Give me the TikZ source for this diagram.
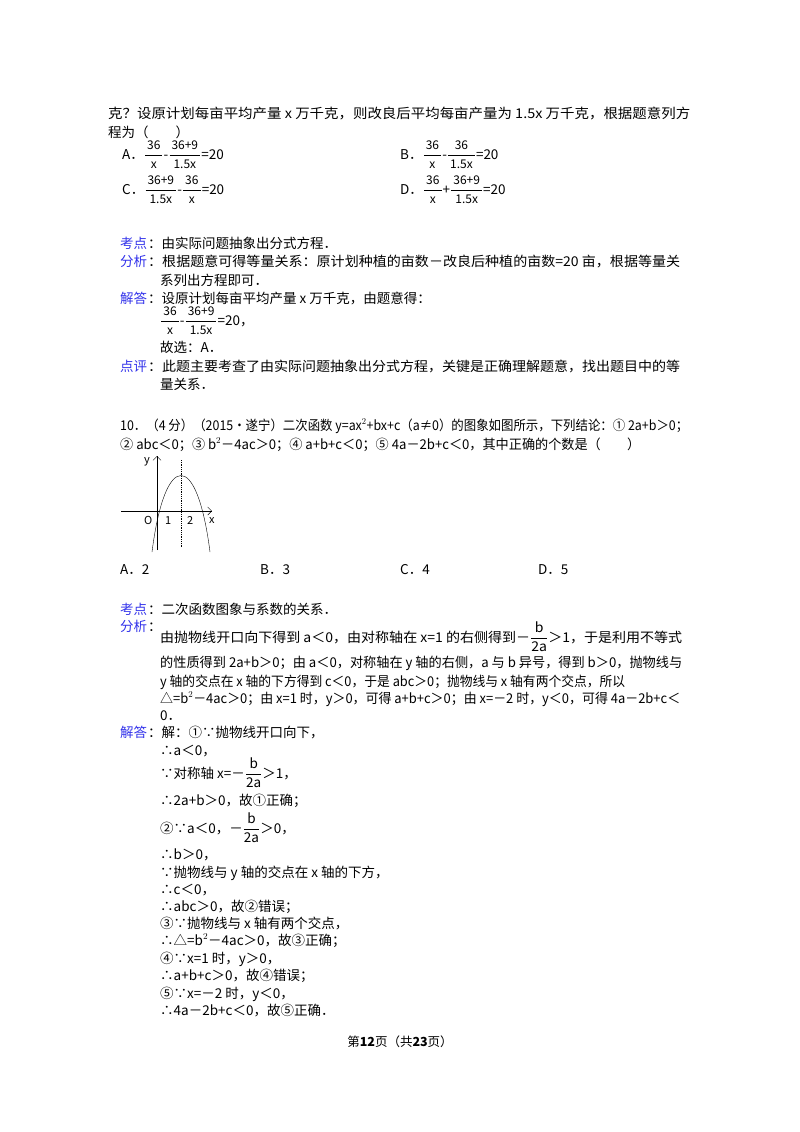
\documentclass[tikz,border=0pt]{standalone}
\usepackage{fontspec}
\usepackage{amsmath}
\usepackage{graphicx}
\usetikzlibrary{arrows.meta}
\setmainfont{Noto Sans CJK SC}
\definecolor{lab}{RGB}{50,50,235}
\newcommand{\fr}[2]{$\genfrac{}{}{0.6pt}{0}{\mbox{#1}}{\mbox{#2}}$}
\newcommand{\frs}[2]{$\genfrac{}{}{0.6pt}{0}{\mbox{\fontsize{12}{13}\selectfont\,#1\,}}{\mbox{\fontsize{12}{13}\selectfont\,#2\,}}$}
\newcommand{\fitw}[2]{\resizebox{#1}{\height}{#2}}
\tikzset{t/.style={anchor=base west,inner sep=0pt,font=\fontsize{13.5}{16}\selectfont},
 lb/.style={t,text=lab}}
\begin{document}
\begin{tikzpicture}[x=1pt,y=-1pt]
\useasboundingbox[fill=white] (0,0) rectangle (800,1132);
\node[t] (l1) at (108,118) {\fitw{582pt}{克？设原计划每亩平均产量 x 万千克，则改良后平均每亩产量为 1.5x 万千克，根据题意列方}};
\node[t] (l2) at (108,137) {程为（\quad\quad）};
\node[t] (oa) at (122,159) {A．\frs{36}{x}-\frs{36+9}{1.5x}=20};
\node[t] (ob) at (400,159) {B．\frs{36}{x}-\frs{36}{1.5x}=20};
\node[t] (oc) at (122,194) {C．\frs{36+9}{1.5x}-\frs{36}{x}=20};
\node[t] (od) at (400,194) {D．\frs{36}{x}+\frs{36+9}{1.5x}=20};
\node[lb] (k1) at (120,248) {考点};
\node[t] (k1t) at (148,248) {：由实际问题抽象出分式方程．};
\node[lb] (f1) at (120,266) {分析};
\node[t] (f1t) at (148,266) {\fitw{532pt}{：根据题意可得等量关系：原计划种植的亩数－改良后种植的亩数=20 亩，根据等量关}};
\node[t] (f1u) at (160,285) {系列出方程即可．};
\node[lb] (j1) at (120,303) {解答};
\node[t] (j1t) at (148,303) {：设原计划每亩平均产量 x 万千克，由题意得：};
\node[t] (j1f) at (160,325) {\frs{36}{x}-\frs{36+9}{1.5x}=20，};
\node[t] (j1g) at (160,352) {故选：A．};
\node[lb] (d1) at (120,371) {点评};
\node[t] (d1t) at (148,371) {\fitw{532pt}{：此题主要考查了由实际问题抽象出分式方程，关键是正确理解题意，找出题目中的等}};
\node[t] (d1u) at (160,389) {量关系．};
\node[t] (q1) at (120,430) {\fitw{568pt}{10．（4 分）（2015•遂宁）二次函数 y=ax$^2$+bx+c（a≠0）的图象如图所示，下列结论：① 2a+b＞0；}};
\node[t] (q2) at (120,449) {\fitw{520pt}{② abc＜0；③ b$^2$－4ac＞0；④ a+b+c＜0；⑤ 4a－2b+c＜0，其中正确的个数是（\quad\quad）}};
% graph
\coordinate (xa) at (121,511); \coordinate (xb) at (212,511);
\coordinate (ya) at (157,550); \coordinate (yb) at (157,456);
\draw[-{Straight Barb[length=4pt]},thin] (xa) -- (xb);
\draw[-{Straight Barb[length=4pt]},thin] (ya) -- (yb);
\draw[densely dotted,thick] (181,460) -- (181,547);
\draw[thin] (152,552) .. controls (165,450) and (197,450) .. (210,552);
\node[t,font=\itshape\fontsize{11}{13}\selectfont] (ly) at (144,463) {y};
\node[t,font=\itshape\fontsize{11}{13}\selectfont] (lo) at (144,524) {O};
\node[t,font=\fontsize{11}{13}\selectfont] (l1x) at (165,524) {1};
\node[t,font=\fontsize{11}{13}\selectfont] (l2x) at (187,524) {2};
\node[t,font=\itshape\fontsize{11}{13}\selectfont] (lx) at (209,523) {x};
\node[t] (a2) at (120,574) {A．2};
\node[t] (b3) at (260,574) {B．3};
\node[t] (c4) at (400,574) {C．4};
\node[t] (d5) at (538,574) {D．5};
\node[lb] (k2) at (120,614) {考点};
\node[t] (k2t) at (148,614) {：二次函数图象与系数的关系．};
\node[lb] (f2) at (120,631) {分析};
\node[t] (f2a) at (148,631) {：};
\node[t] (f2b) at (160,642) {\fitw{522pt}{由抛物线开口向下得到 a＜0，由对称轴在 x=1 的右侧得到－\fr{b}{2a}＞1，于是利用不等式}};
\node[t] (f2c) at (160,667) {\fitw{522pt}{的性质得到 2a+b＞0；由 a＜0，对称轴在 y 轴的右侧，a 与 b 异号，得到 b＞0，抛物线与}};
\node[t] (f2d) at (160,686) {\fitw{465pt}{y 轴的交点在 x 轴的下方得到 c＜0，于是 abc＞0；抛物线与 x 轴有两个交点，所以}};
\node[t] (f2e) at (160,703) {\fitw{520pt}{△=b$^2$－4ac＞0；由 x=1 时，y＞0，可得 a+b+c＞0；由 x=－2 时，y＜0，可得 4a－2b+c＜}};
\node[t] (f2f) at (160,720) {0．};
\node[lb] (j2) at (120,737) {解答};
\node[t] (j2a) at (148,737) {：解：①∵抛物线开口向下，};
\node[t] (s1) at (160,755) {∴a＜0，};
\node[t] (s2) at (160,778) {∵对称轴 x=－\fr{b}{2a}＞1，};
\node[t] (s3) at (160,805) {∴2a+b＞0，故①正确；};
\node[t] (s4) at (160,833) {②∵a＜0，－\fr{b}{2a}＞0，};
\node[t] (s5) at (160,859) {∴b＞0，};
\node[t] (s6) at (160,877) {∵抛物线与 y 轴的交点在 x 轴的下方，};
\node[t] (s7) at (160,894) {∴c＜0，};
\node[t] (s8) at (160,911) {∴abc＞0，故②错误；};
\node[t] (s9) at (160,928) {③∵抛物线与 x 轴有两个交点，};
\node[t] (s10) at (160,945) {∴△=b$^2$－4ac＞0，故③正确；};
\node[t] (s11) at (160,963) {④∵x=1 时，y＞0，};
\node[t] (s12) at (160,980) {∴a+b+c＞0，故④错误；};
\node[t] (s13) at (160,998) {⑤∵x=－2 时，y＜0，};
\node[t] (s14) at (160,1015) {∴4a－2b+c＜0，故⑤正确．};
\node[anchor=base,inner sep=0pt,font=\fontsize{12.5}{14}\selectfont] (ft) at (400,1046) {第\textbf{12}页（共\textbf{23}页）};
\end{tikzpicture}
\end{document}
